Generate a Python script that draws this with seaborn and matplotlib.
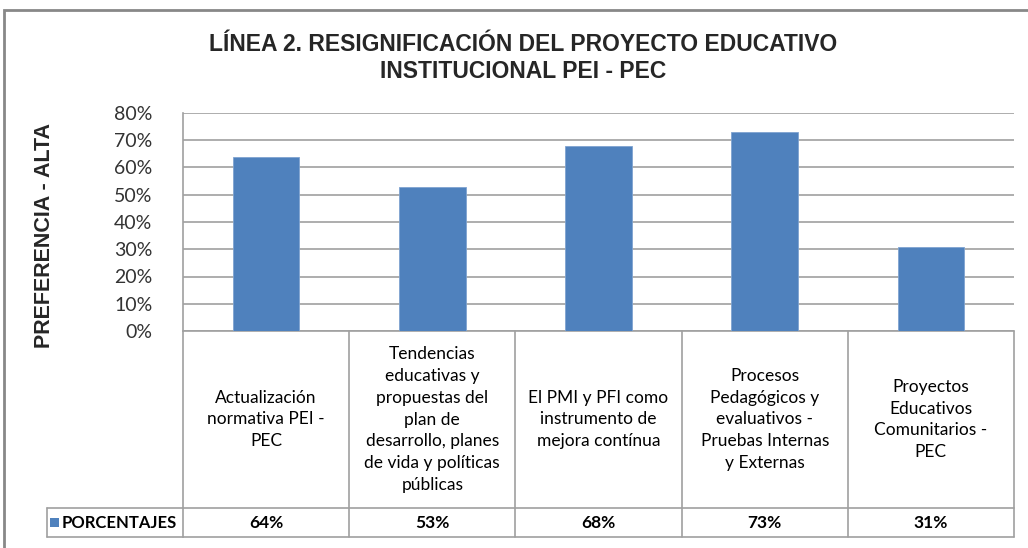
import pandas as pd
import numpy as np
import matplotlib.pyplot as plt
import seaborn as sns
from matplotlib.patches import Rectangle
from matplotlib.lines import Line2D

# data
categorias = ['Actualización\nnormativa PEI -\nPEC',
              'Tendencias\neducativas y\npropuestas del\nplan de\ndesarrollo, planes\nde vida y políticas\npúblicas',
              'El PMI y PFI como\ninstrumento de\nmejora contínua',
              'Procesos\nPedagógicos y\nevaluativos -\nPruebas Internas\ny Externas',
              'Proyectos\nEducativos\nComunitarios -\nPEC']
porcentajes = [64, 53, 68, 73, 31]
serie = 'PORCENTAJES'
titulo = 'LÍNEA 2. RESIGNIFICACIÓN DEL PROYECTO EDUCATIVO\nINSTITUCIONAL PEI - PEC'
eje_y = 'PREFERENCIA - ALTA'

azul = '#4F81BD'
gris = '#A0A0A0'

sns.set_style('white')
plt.rcParams['font.family'] = ['Lato', 'DejaVu Sans']

data = pd.DataFrame({'cat': range(len(categorias)), 'val': porcentajes})

W, H = 1028, 548
fig = plt.figure(figsize=(W / 100, H / 100), dpi=100)
ax = fig.add_axes([183 / W, 1 - 331 / H, (1014 - 183) / W, (331 - 113) / H])

sns.barplot(data=data, x='cat', y='val', color=azul, width=0.4, ax=ax,
            saturation=1, edgecolor='#7FA3D0', linewidth=0.6, zorder=3)

ax.set_xlim(-0.5, len(categorias) - 0.5)
ax.set_ylim(0, 80)
ax.set_yticks(range(0, 81, 10))
ax.set_yticklabels([f'{v}%' for v in range(0, 81, 10)], fontsize=14, color='#333333')
ax.tick_params(axis='y', length=0, pad=22)
ax.set_xticks([])
ax.set_xlabel('')
ax.set_ylabel('')
ax.grid(axis='y', color=gris, linewidth=1.2, zorder=0)
for s in ['top', 'right', 'bottom']:
    ax.spines[s].set_visible(False)
ax.spines['left'].set_color(gris)
ax.spines['left'].set_linewidth(1.2)

# data table under the plot
tr = ax.get_xaxis_transform()
y_cab = -177 / 218
y_val = -206 / 218
n = len(categorias)
lw = 1.2
for i in range(n + 1):
    ax.add_line(Line2D([i - 0.5, i - 0.5], [0, y_val], transform=tr, color=gris,
                       lw=lw, clip_on=False))
ax.add_line(Line2D([-0.5, n - 0.5], [0, 0], transform=tr, color=gris, lw=lw, clip_on=False))
ax.add_line(Line2D([-0.5, n - 0.5], [y_cab, y_cab], transform=tr, color=gris, lw=lw, clip_on=False))
ax.add_line(Line2D([-0.5, n - 0.5], [y_val, y_val], transform=tr, color=gris, lw=lw, clip_on=False))
for i, (c, v) in enumerate(zip(categorias, porcentajes)):
    ax.text(i, y_cab / 2, c, transform=tr, ha='center', va='center', fontsize=12.5,
            linespacing=1.45, color='#000000')
    ax.text(i, (y_cab + y_val) / 2, f'{v}%', transform=tr, ha='center', va='center',
            fontsize=12.5, fontweight='bold', color='#000000')

# legend cell on the left of the values row
ftr = fig.transFigure
x0, x1 = 47 / W, 183 / W
yt, yb = 1 - 508 / H, 1 - 537 / H
fig.add_artist(Line2D([x0, x1], [yt, yt], transform=ftr, color=gris, lw=lw))
fig.add_artist(Line2D([x0, x1], [yb, yb], transform=ftr, color=gris, lw=lw))
fig.add_artist(Line2D([x0, x0], [yt, yb], transform=ftr, color=gris, lw=lw))
fig.add_artist(Rectangle((50 / W, 1 - 527 / H), 9 / W, 9 / H, transform=ftr,
                         facecolor=azul, edgecolor='none'))
fig.text(62 / W, (yt + yb) / 2, serie, fontsize=12, fontweight='bold',
         va='center', ha='left', color='#000000')

# title and y label
fig.text(523 / W, 1 - 58 / H, titulo, ha='center', va='center', fontsize=16.5,
         fontweight='bold', family=['Liberation Sans Narrow', 'Liberation Sans', 'DejaVu Sans'],
         linespacing=1.25)
fig.text(45 / W, 1 - 235 / H, eje_y, ha='center', va='center', rotation=90,
         fontsize=15.5, fontweight='bold', family=['Liberation Sans', 'DejaVu Sans'])

# chart area border
fig.add_artist(Rectangle((4 / W, -0.05), 1.1, 1 - 10 / H + 0.05, transform=ftr,
                         fill=False, edgecolor='#888888', lw=2))

plt.savefig('out.png', dpi=100)
